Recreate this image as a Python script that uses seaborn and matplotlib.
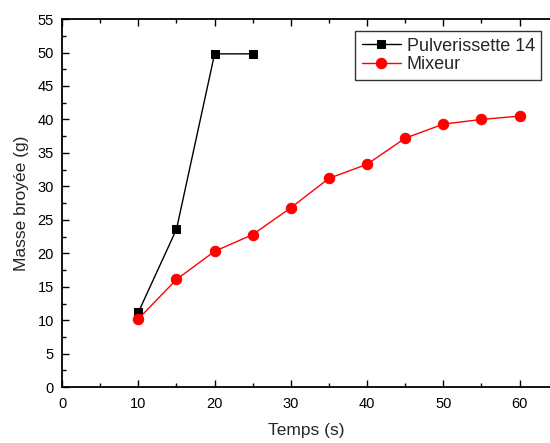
import matplotlib
matplotlib.use("Agg")
import matplotlib.pyplot as plt
import seaborn as sns
import pandas as pd
from matplotlib.ticker import MultipleLocator

sns.set_style("white")
plt.rcParams['font.family'] = ['Liberation Sans', 'DejaVu Sans']

t_pulv = [10, 15, 20, 25]
m_pulv = [11.2, 23.6, 49.8, 49.8]
t_mix = [10, 15, 20, 25, 30, 35, 40, 45, 50, 55, 60]
m_mix = [10.2, 16.1, 20.3, 22.8, 26.8, 31.2, 33.3, 37.2, 39.3, 40.0, 40.5]

df_p = pd.DataFrame({"t": t_pulv, "m": m_pulv})
df_m = pd.DataFrame({"t": t_mix, "m": m_mix})

fig = plt.figure(figsize=(5.5, 4.43), dpi=100)
ax = fig.add_axes([0.113, 0.126, 0.887, 0.831])

sns.lineplot(data=df_p, x="t", y="m", ax=ax, color="black", lw=1, marker="s",
             markersize=6, markeredgecolor="black", label="Pulverissette 14")
sns.lineplot(data=df_m, x="t", y="m", ax=ax, color="#ff0000", lw=1, marker="o",
             markersize=7.5, markeredgecolor="#ff0000", label="Mixeur")

ax.set_xlim(0, 64)
ax.set_ylim(0, 55)
ax.xaxis.set_major_locator(MultipleLocator(10))
ax.xaxis.set_minor_locator(MultipleLocator(5))
ax.yaxis.set_major_locator(MultipleLocator(5))
ax.yaxis.set_minor_locator(MultipleLocator(2.5))
ax.tick_params(which="both", direction="in", top=True, right=False, bottom=True, left=True,
               labelsize=10.5, colors="black", width=1)
ax.tick_params(which="major", length=5)
ax.tick_params(which="minor", length=3)
ax.tick_params(axis="x", which="both", pad=7)
ax.tick_params(axis="y", which="both", pad=6)
for s in ["left", "bottom", "top"]:
    ax.spines[s].set_color("black")
    ax.spines[s].set_linewidth(1.3)
ax.spines["right"].set_visible(False)

ax.set_xlabel("Temps (s)", fontsize=12.5, labelpad=9)
ax.set_ylabel("Masse broyée (g)", fontsize=12.5, labelpad=6)

leg = ax.legend(loc="upper right", bbox_to_anchor=(0.982, 0.967), fontsize=13,
                frameon=True, fancybox=False, edgecolor="black", handlelength=2.2,
                borderpad=0.35, labelspacing=0.1, handletextpad=0.3, borderaxespad=0)
leg.get_frame().set_linewidth(1)

fig.savefig("out.png", dpi=100)
